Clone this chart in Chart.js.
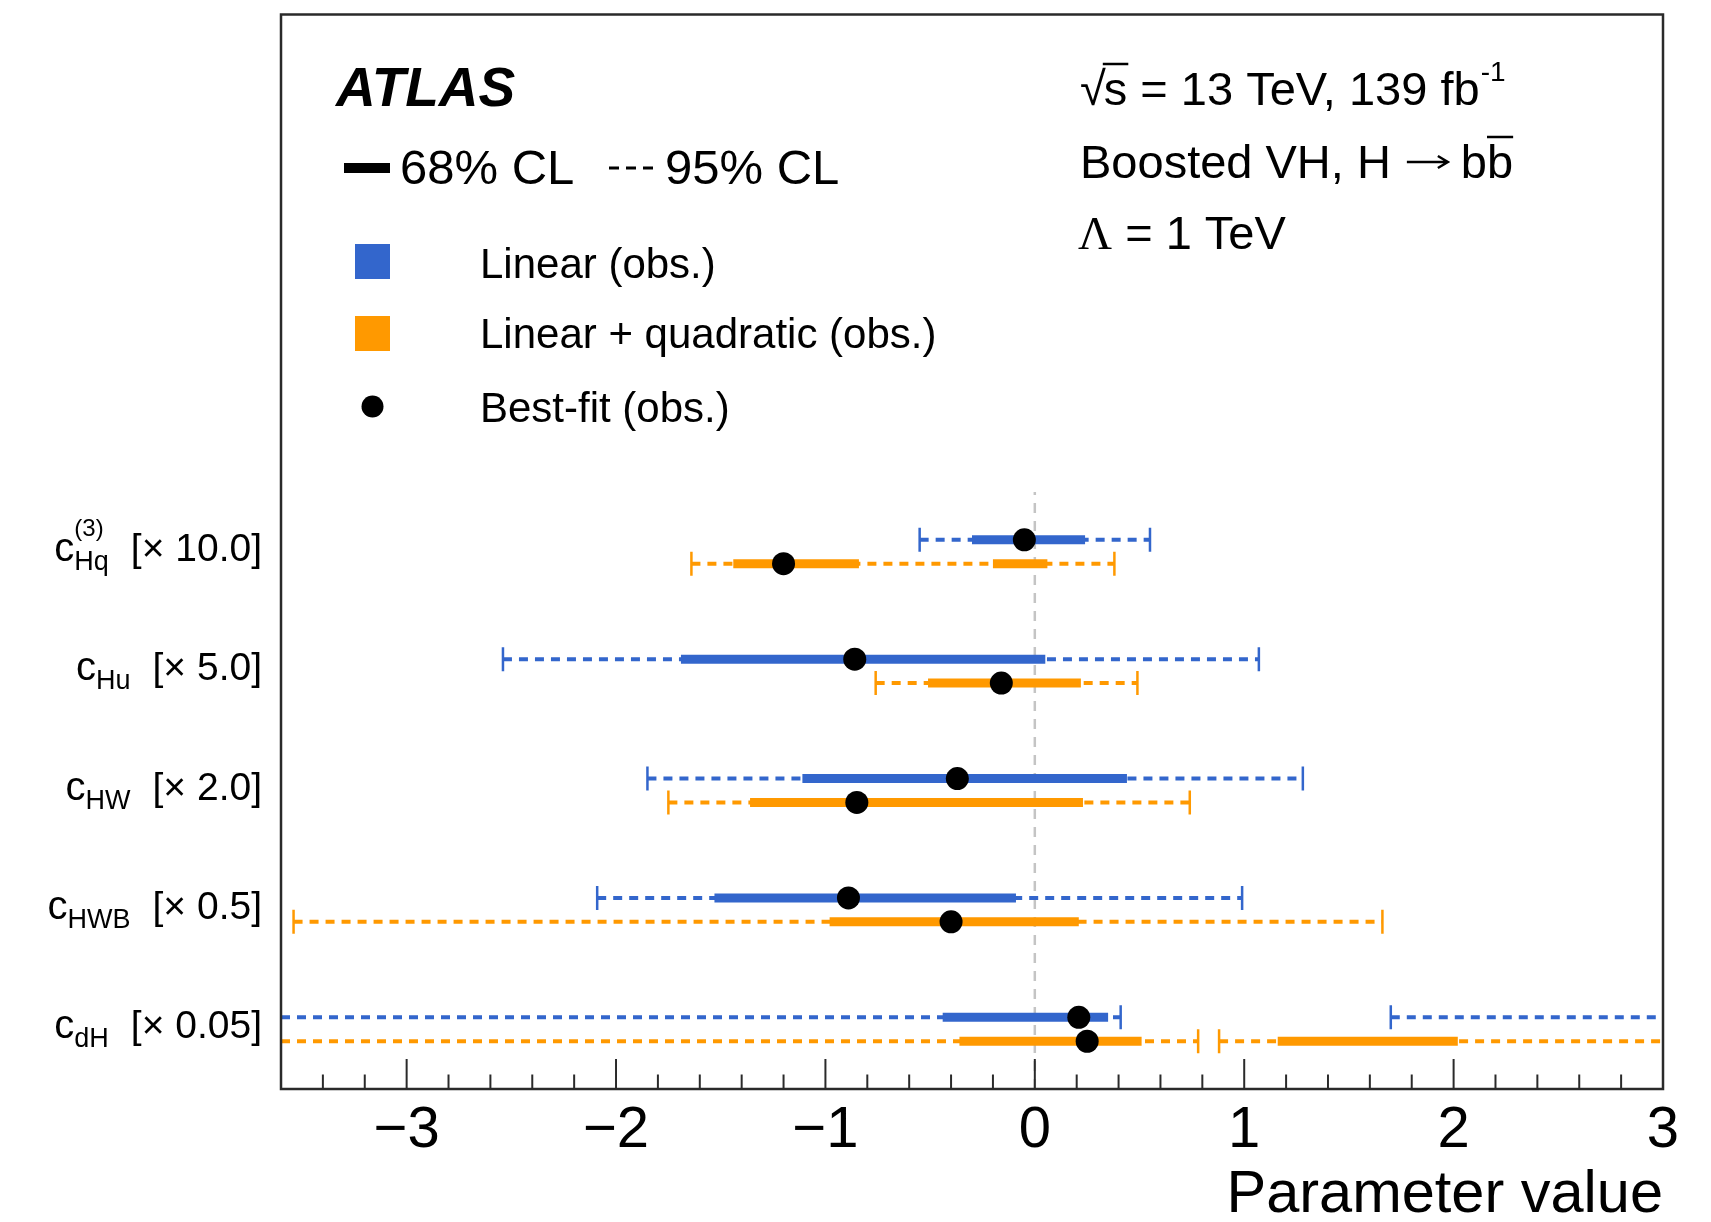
<!DOCTYPE html>
<html>
<head>
<meta charset="utf-8">
<script src="https://cdn.jsdelivr.net/npm/chart.js@4.4.0/dist/chart.umd.min.js"></script>
<style>
    html, body { margin: 0; padding: 0; background: #fff; }
    #wrap { width: 1711px; height: 1222px; position: relative; }
</style>
</head>
<body>
<div id="wrap"><canvas id="fit-chart"></canvas></div>
<script>
// ---- data ----
const coefSubs    = ['Hq', 'Hu', 'HW', 'HWB', 'dH'];
const coefSups    = ['(3)', '', '', '', ''];
const scaleLabels = ['10.0', '5.0', '2.0', '0.5', '0.05'];
const rowPos      = [4.5, 3.5, 2.5, 1.5, 0.5];

// linear (obs.)
const linBest = [-0.05, -0.86, -0.37, -0.89, 0.21];
const lin68 = [[[-0.30, 0.24]], [[-1.69, 0.05]], [[-1.11, 0.44]], [[-1.53, -0.09]], [[-0.44, 0.35]]];
const lin95 = [[[-0.55, 0.55]], [[-2.54, 1.07]], [[-1.85, 1.28]], [[-2.09, 0.99]], [[null, 0.41], [1.70, null]]];

// linear + quadratic (obs.)
const quadBest = [-1.20, -0.16, -0.85, -0.40, 0.25];
const quad68 = [[[-1.44, -0.84], [-0.20, 0.06]], [[-0.51, 0.22]], [[-1.36, 0.23]], [[-0.98, 0.21]], [[-0.36, 0.51], [1.16, 2.02]]];
const quad95 = [[[-1.64, 0.38]], [[-0.76, 0.49]], [[-1.75, 0.74]], [[-3.54, 1.66]], [[null, 0.78], [0.88, null]]];

// axis
const xMin = -3.6, xMax = 3;
const yMin = 0, yMax = 9;
const majorTicks = [-3, -2, -1, 0, 1, 2, 3];
const tickLabels = ['\u22123', '\u22122', '\u22121', '0', '1', '2', '3'];

const BLUE = '#3366cc';
const ORANGE = '#ff9900';
const FONT = '"Liberation Sans", Arial, Helvetica, sans-serif';

/**
 * buildSeries
 * Turns one fit (best-fit, 68%, 95% intervals) into Chart.js datasets.
 * null interval ends mean the interval runs past the axis.
 */
function buildSeries(best, cl68, cl95, color, offset) {
    const sets = [];
    const caps = [];
    cl95.forEach((row, r) => {
        const y = rowPos[r] + offset;
        row.forEach(([lo, hi]) => {
            sets.push({
                type: 'line',
                data: [{ x: lo === null ? xMin : lo, y }, { x: hi === null ? xMax : hi, y }],
                borderColor: color,
                borderWidth: 4,
                borderDash: [9, 7],
                borderCapStyle: 'butt',
                pointRadius: 0,
                order: 4
            });
            if (lo !== null) caps.push({ x: lo, y });
            if (hi !== null) caps.push({ x: hi, y });
        });
    });
    sets.push({
        type: 'scatter',
        data: caps,
        pointStyle: 'line',
        rotation: 90,
        pointRadius: 12,
        borderColor: color,
        borderWidth: 2.5,
        order: 3
    });
    cl68.forEach((row, r) => {
        const y = rowPos[r] + offset;
        row.forEach(([lo, hi]) => {
            sets.push({
                type: 'line',
                data: [{ x: lo, y }, { x: hi, y }],
                borderColor: color,
                borderWidth: 9,
                borderCapStyle: 'butt',
                pointRadius: 0,
                order: 2
            });
        });
    });
    sets.push({
        type: 'scatter',
        data: best.map((v, r) => ({ x: v, y: rowPos[r] + offset })),
        pointRadius: 11.5,
        backgroundColor: '#000',
        borderWidth: 0,
        order: 1
    });
    return sets;
}

const datasets = [
    {
        // SM reference line at zero
        type: 'line',
        data: [{ x: 0, y: yMin }, { x: 0, y: 5 }],
        borderColor: '#c4c4c4',
        borderWidth: 2.5,
        borderDash: [10, 8],
        pointRadius: 0,
        order: 5
    },
    ...buildSeries(linBest, lin68, lin95, BLUE, 0.1),
    ...buildSeries(quadBest, quad68, quad95, ORANGE, -0.1)
];

// ---- decorations: frame, ticks, labels, legend ----
const decorations = {
    id: 'decorations',
    afterDraw(chart) {
        const { ctx, chartArea: a, scales: { x, y } } = chart;
        ctx.save();

        // frame
        ctx.strokeStyle = '#2a2a2a';
        ctx.lineWidth = 2.5;
        ctx.strokeRect(a.left, a.top, a.right - a.left, a.bottom - a.top);

        // bottom ticks, pointing inward
        ctx.lineWidth = 2;
        for (let i = 0; i <= 33; i++) {
            const v = xMin + i * 0.2;
            const major = Math.abs(v - Math.round(v)) < 1e-6;
            const px = x.getPixelForValue(v);
            if (px <= a.left + 1 || px >= a.right - 1) continue;
            ctx.beginPath();
            ctx.moveTo(px, a.bottom);
            ctx.lineTo(px, a.bottom - (major ? 30 : 14.5));
            ctx.stroke();
        }

        // tick labels
        ctx.fillStyle = '#000';
        ctx.font = `58px ${FONT}`;
        ctx.textAlign = 'center';
        ctx.textBaseline = 'alphabetic';
        majorTicks.forEach((t, i) => {
            ctx.fillText(tickLabels[i], x.getPixelForValue(t), a.bottom + 58);
        });

        // axis title
        ctx.textAlign = 'right';
        ctx.font = `59.5px ${FONT}`;
        ctx.fillText('Parameter value', a.right, a.bottom + 123);

        // coefficient labels
        coefSubs.forEach((sub, r) => {
            const base = y.getPixelForValue(rowPos[r]) + 9;
            ctx.textAlign = 'right';
            ctx.font = `39px ${FONT}`;
            const br = '[\u00d7 ' + scaleLabels[r] + ']';
            ctx.fillText(br, 262, base);
            const bw = ctx.measureText(br).width;
            ctx.font = `27px ${FONT}`;
            const sw = ctx.measureText(sub).width;
            const sx = 262 - bw - 22 - sw;
            ctx.textAlign = 'left';
            ctx.fillText(sub, sx, base + 9);
            if (coefSups[r]) {
                ctx.font = `24px ${FONT}`;
                ctx.fillText(coefSups[r], sx, base - 25);
            }
            ctx.font = `40px ${FONT}`;
            ctx.textAlign = 'right';
            ctx.fillText('c', sx, base);
        });

        // ATLAS label
        ctx.textAlign = 'left';
        ctx.font = `italic bold 55px ${FONT}`;
        ctx.fillText('ATLAS', 336, 106);

        // CL line styles
        ctx.strokeStyle = '#000';
        ctx.lineWidth = 10;
        ctx.beginPath();
        ctx.moveTo(344, 168);
        ctx.lineTo(390, 168);
        ctx.stroke();
        ctx.font = `49px ${FONT}`;
        ctx.fillText('68% CL', 400, 184);
        ctx.lineWidth = 3;
        ctx.setLineDash([10, 7]);
        ctx.beginPath();
        ctx.moveTo(609, 168);
        ctx.lineTo(660, 168);
        ctx.stroke();
        ctx.setLineDash([]);
        ctx.fillText('95% CL', 665, 184);

        // legend entries
        ctx.fillStyle = BLUE;
        ctx.fillRect(355, 244, 35, 35);
        ctx.fillStyle = ORANGE;
        ctx.fillRect(355, 316, 35, 35);
        ctx.fillStyle = '#000';
        ctx.beginPath();
        ctx.arc(372.5, 406.5, 11, 0, Math.PI * 2);
        ctx.fill();
        ctx.font = `42px ${FONT}`;
        ctx.fillText('Linear (obs.)', 480, 278);
        ctx.fillText('Linear + quadratic (obs.)', 480, 348);
        ctx.fillText('Best-fit (obs.)', 480, 421.5);

        // run info
        ctx.font = `47px ${FONT}`;
        let cx = 1080;
        ctx.fillText('\u221a', cx, 105);
        cx += ctx.measureText('\u221a').width - 2;
        const sW = ctx.measureText('s').width;
        ctx.fillText('s', cx, 105);
        ctx.lineWidth = 2.5;
        ctx.beginPath();
        ctx.moveTo(cx - 1, 64);
        ctx.lineTo(cx + sW + 1, 64);
        ctx.stroke();
        cx += sW;
        const runTxt = ' = 13 TeV, 139 fb';
        ctx.fillText(runTxt, cx, 105);
        cx += ctx.measureText(runTxt).width;
        ctx.font = `28px ${FONT}`;
        ctx.fillText('-1', cx + 1, 81);

        // process line, with a drawn arrow like the ROOT one
        ctx.font = `47px ${FONT}`;
        const proc = 'Boosted VH, H';
        ctx.fillText(proc, 1080, 178);
        const ax = 1080 + ctx.measureText(proc).width + 16;
        const ay = 162;
        ctx.lineWidth = 2.5;
        ctx.beginPath();
        ctx.moveTo(ax, ay);
        ctx.lineTo(ax + 40, ay);
        ctx.moveTo(ax + 31, ay - 6);
        ctx.lineTo(ax + 41, ay);
        ctx.lineTo(ax + 31, ay + 6);
        ctx.stroke();
        const bx = ax + 54;
        ctx.fillText('b', bx, 178);
        const bW = ctx.measureText('b').width;
        ctx.fillText('b', bx + bW, 178);
        ctx.beginPath();
        ctx.moveTo(bx + bW, 137);
        ctx.lineTo(bx + 2 * bW, 137);
        ctx.stroke();

        ctx.font = `47px "Liberation Serif", "Times New Roman", serif`;
        ctx.fillText('\u039b', 1078, 249);
        const lw = ctx.measureText('\u039b').width;
        ctx.font = `47px ${FONT}`;
        ctx.fillText(' = 1 TeV', 1078 + lw, 249);

        ctx.restore();
    }
};

document.addEventListener('DOMContentLoaded', () => {
    const canvas = document.getElementById('fit-chart');
    new Chart(canvas, {
        type: 'scatter',
        data: { datasets },
        options: {
            responsive: true,
            maintainAspectRatio: false,
            animation: false,
            layout: { padding: { left: 281, right: 48, top: 11, bottom: 133 } },
            plugins: {
                legend: { display: false },
                tooltip: { enabled: false }
            },
            scales: {
                x: { type: 'linear', min: xMin, max: xMax, display: false },
                y: { type: 'linear', min: yMin, max: yMax, display: false }
            }
        },
        plugins: [decorations]
    });
});
</script>
</body>
</html>
